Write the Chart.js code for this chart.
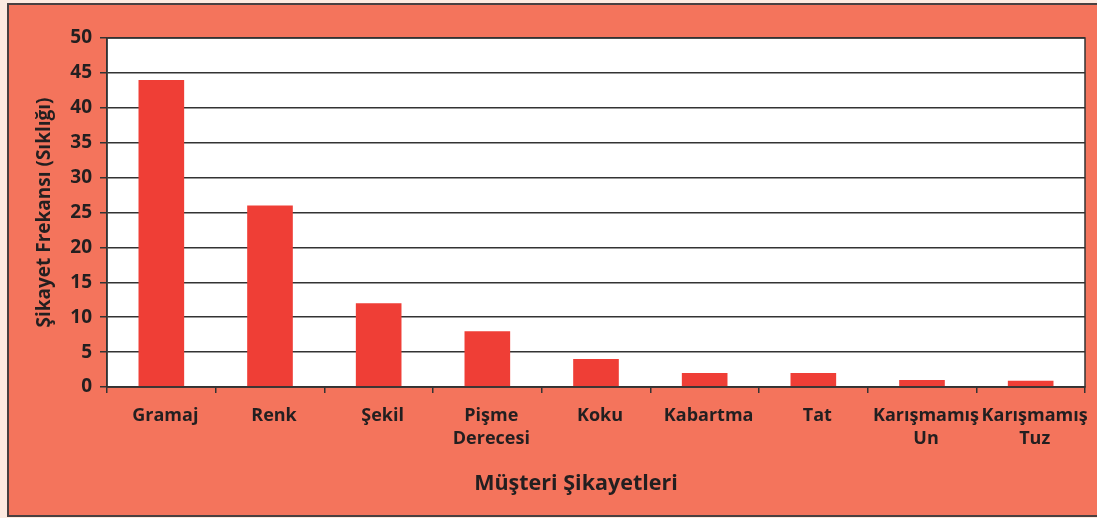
<!DOCTYPE html>
<html>
<head>
<meta charset="utf-8">
<script src="https://cdn.jsdelivr.net/npm/chart.js@4"></script>
<style>
  html, body { margin: 0; padding: 0; background: #fdeae0; }
  #wrap { width: 1097px; height: 518px; }
</style>
</head>
<body>
<div id="wrap"><canvas id="complaints" width="1097" height="518"></canvas></div>
<script>
const categories = ['Gramaj', 'Renk', 'Şekil', ['Pişme', 'Derecesi'], 'Koku', 'Kabartma', 'Tat', ['Karışmamış', 'Un'], ['Karışmamış', 'Tuz']];
const complaintCounts = [44, 26, 12, 8, 4, 2, 2, 1, 0.9];
const yTicks = [0, 5, 10, 15, 20, 25, 30, 35, 40, 45, 50];
const xTitle = 'Müşteri Şikayetleri';
const yTitle = 'Şikayet Frekansı (Sıklığı)';

const textColor = '#231f20';
const fontFamily = '"Open Sans", "DejaVu Sans", sans-serif';

// background: cream page, salmon panel, white plot with a dark frame
const panelBackground = {
    id: 'panelBackground',
    beforeDraw(chart) {
        const { ctx, chartArea } = chart;
        ctx.save();
        ctx.fillStyle = '#fdeae0';
        ctx.fillRect(0, 0, chart.width, chart.height);
        ctx.fillStyle = '#f4745c';
        ctx.fillRect(8, 4, chart.width - 8, chart.height - 6);
        ctx.strokeStyle = '#4a4040';
        ctx.lineWidth = 2;
        ctx.strokeRect(8, 4, chart.width + 10, chart.height - 6);
        ctx.fillStyle = '#ffffff';
        ctx.fillRect(chartArea.left, chartArea.top, chartArea.right - chartArea.left, chartArea.bottom - chartArea.top);
        ctx.restore();
    },
    afterDraw(chart) {
        const { ctx, chartArea } = chart;
        ctx.save();
        ctx.strokeStyle = '#333';
        ctx.lineWidth = 1.5;
        ctx.strokeRect(chartArea.left, chartArea.top, chartArea.right - chartArea.left, chartArea.bottom - chartArea.top);
        // x axis title sits a little left of the plot centre in the original
        ctx.fillStyle = textColor;
        ctx.font = 'bold 21.5px ' + fontFamily;
        ctx.textAlign = 'center';
        ctx.textBaseline = 'middle';
        ctx.fillText(xTitle, (chartArea.left + chartArea.right) / 2 - 20, 484);
        ctx.restore();
    }
};

new Chart(document.getElementById('complaints').getContext('2d'), {
    type: 'bar',
    data: {
        labels: categories,
        datasets: [{
            data: complaintCounts,
            backgroundColor: '#ef3e36',
            borderWidth: 0,
            barPercentage: 0.42,
            categoryPercentage: 1
        }]
    },
    options: {
        responsive: false,
        animation: false,
        layout: { padding: { left: 8, right: 12, top: 38, bottom: 4 } },
        plugins: {
            legend: { display: false },
            tooltip: { enabled: false }
        },
        scales: {
            x: {
                afterFit(scale) { scale.height = 127; },
                grid: { offset: true, drawOnChartArea: false, color: '#333', lineWidth: 1.5, tickLength: 6 },
                border: { color: '#333', width: 1.5 },
                ticks: {
                    color: textColor,
                    padding: 11,
                    labelOffset: 4,
                    maxRotation: 0,
                    autoSkip: false,
                    font: { family: fontFamily, size: 18, weight: 'bold', lineHeight: 1.28 }
                }
            },
            y: {
                min: 0,
                max: 50,
                afterFit(scale) { scale.width = 99; },
                afterBuildTicks(scale) { scale.ticks = yTicks.map(v => ({ value: v })); },
                grid: { color: '#333', lineWidth: 1.5, tickLength: 7 },
                border: { color: '#333', width: 1.5 },
                ticks: {
                    color: textColor,
                    padding: 8,
                    font: { family: fontFamily, size: 19, weight: 'bold' }
                },
                title: {
                    display: true,
                    text: yTitle,
                    color: textColor,
                    padding: { top: 25, bottom: 0 },
                    font: { family: fontFamily, size: 19, weight: 'bold' }
                }
            }
        }
    },
    plugins: [panelBackground]
});
</script>
</body>
</html>
